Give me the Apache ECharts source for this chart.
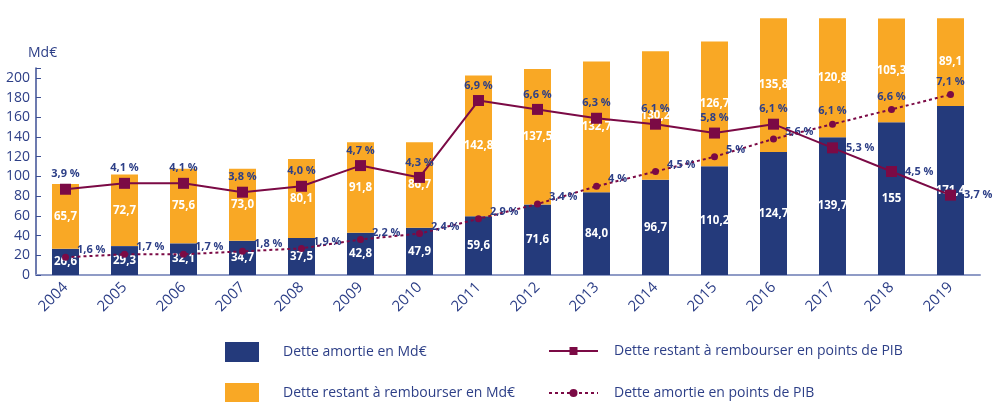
<!DOCTYPE html>
<html>
<head>
<meta charset="utf-8">
<script src="https://cdn.jsdelivr.net/npm/echarts@6/dist/echarts.min.js"></script>
<style>
  html, body { margin: 0; padding: 0; background: #fff; }
  #main { width: 992px; height: 402px; }
</style>
</head>
<body>
<div id="main"></div>
<script>
// années
var annees = ['2004', '2005', '2006', '2007', '2008', '2009', '2010', '2011',
              '2012', '2013', '2014', '2015', '2016', '2017', '2018', '2019'];
// Md€ (gardés en texte pour conserver l'affichage "84,0" / "155")
var detteAmortie = ['26.6', '29.3', '32.1', '34.7', '37.5', '42.8', '47.9', '59.6',
                    '71.6', '84.0', '96.7', '110.2', '124.7', '139.7', '155', '171.4'];
var detteRestant = ['65.7', '72.7', '75.6', '73.0', '80.1', '91.8', '86.7', '142.8',
                    '137.5', '132.7', '130.2', '126.7', '135.8', '120.8', '105.3', '89.1'];
// points de PIB
var restantPib = ['3.9', '4.1', '4.1', '3.8', '4.0', '4.7', '4.3', '6.9',
                  '6.6', '6.3', '6.1', '5.8', '6.1', '5.3', '4.5', '3.7'];
var amortiePib = ['1.6', '1.7', '1.7', '1.8', '1.9', '2.2', '2.4', '2.9',
                  '3.4', '4', '4.5', '5', '5.6', '6.1', '6.6', '7.1'];
var yTicks = [0, 20, 40, 60, 80, 100, 120, 140, 160, 180, 200];

var NAVY = '#243a7b';
var ORANGE = '#f9a825';
var BORDEAUX = '#7b0a45';
var TXT = '#2d3f87';
var FONT = '"Open Sans", "DejaVu Sans", sans-serif';

function virgule(v) {
    return String(v).replace('.', ',');
}

function valeur(p) {
    return (p.data && p.data.value !== undefined) ? p.data.value : p.data;
}

var chart = echarts.init(document.getElementById('main'));

var option = {
    animation: false,
    textStyle: { fontFamily: FONT },
    grid: { left: 36, right: 12, top: 68, bottom: 127 },
    legend: [{
        orient: 'vertical',
        left: 225,
        top: 342,
        height: 100,
        padding: 0,
        itemWidth: 34,
        itemHeight: 20,
        itemGap: 21,
        icon: 'rect',
        textStyle: { color: TXT, fontSize: 14, padding: [0, 0, 0, 19] },
        data: ['Dette amortie en Md€', 'Dette restant à rembourser en Md€']
    }, {
        orient: 'vertical',
        left: 548,
        top: 344,
        height: 100,
        padding: 0,
        itemWidth: 49,
        itemHeight: 10,
        itemGap: 28,
        textStyle: { color: TXT, fontSize: 14, padding: [0, 0, 0, 11] },
        data: ['Dette restant à rembourser en points de PIB', 'Dette amortie en points de PIB']
    }],
    xAxis: {
        type: 'category',
        data: annees,
        axisLine: { lineStyle: { color: '#8f9bc6', width: 2 } },
        axisTick: { length: 5, lineStyle: { color: '#5a6aa8' } },
        axisLabel: { rotate: 45, color: TXT, fontSize: 15, margin: 10 }
    },
    yAxis: [{
        type: 'value',
        min: 0,
        max: 210,
        interval: 20,
        name: 'Md€',
        nameLocation: 'end',
        nameGap: 8,
        nameTextStyle: { color: TXT, fontSize: 14, align: 'left', padding: [0, 0, 0, -8] },
        axisLine: { show: true, lineStyle: { color: '#3c4f94', width: 1.5 } },
        axisTick: { show: true, inside: true, length: 5, lineStyle: { color: '#3c4f94' } },
        splitLine: { show: false },
        axisLabel: {
            color: TXT,
            fontSize: 14,
            margin: 6,
            formatter: function(v) {
                return yTicks.indexOf(v) >= 0 ? String(v) : '';
            }
        }
    }, {
        type: 'value',
        min: 1,
        max: 8,
        show: false,
        splitLine: { show: false }
    }],
    series: [{
        name: 'Dette amortie en Md€',
        type: 'bar',
        stack: 'dette',
        barWidth: 27,
        clip: false,
        itemStyle: { color: NAVY },
        label: {
            show: true,
            position: 'inside',
            color: '#fff',
            fontWeight: 'bold',
            fontSize: 11.5,
            formatter: function(p) { return virgule(p.data); }
        },
        data: detteAmortie
    }, {
        name: 'Dette restant à rembourser en Md€',
        type: 'bar',
        stack: 'dette',
        barWidth: 27,
        clip: false,
        itemStyle: { color: ORANGE },
        label: {
            show: true,
            position: 'inside',
            color: '#fff',
            fontWeight: 'bold',
            fontSize: 11.5,
            formatter: function(p) { return virgule(p.data); }
        },
        data: detteRestant
    }, {
        name: 'Dette restant à rembourser en points de PIB',
        type: 'line',
        yAxisIndex: 1,
        z: 5,
        symbol: 'rect',
        symbolSize: 11,
        itemStyle: { color: BORDEAUX },
        lineStyle: { color: BORDEAUX, width: 2 },
        label: {
            show: true,
            position: 'top',
            distance: 4,
            color: TXT,
            fontWeight: 'bold',
            fontSize: 11,
            formatter: function(p) { return virgule(valeur(p)) + ' %'; }
        },
        // les trois dernières étiquettes sont à droite du point
        data: restantPib.map(function(v, i) {
            return i >= 13 ? { value: v, label: { position: 'right', distance: 8 } } : v;
        })
    }, {
        name: 'Dette amortie en points de PIB',
        type: 'line',
        yAxisIndex: 1,
        z: 4,
        symbol: 'circle',
        symbolSize: 7,
        itemStyle: { color: BORDEAUX },
        lineStyle: { color: BORDEAUX, width: 2, type: [3, 3] },
        label: {
            show: true,
            position: 'right',
            distance: 8,
            offset: [0, -7],
            color: TXT,
            fontWeight: 'bold',
            fontSize: 11,
            formatter: function(p) { return virgule(valeur(p)) + ' %'; }
        },
        data: amortiePib.map(function(v, i) {
            return i >= 13 ? { value: v, label: { position: 'top', offset: [0, 0], distance: 4 } } : v;
        })
    }]
};

chart.setOption(option);
</script>
</body>
</html>
